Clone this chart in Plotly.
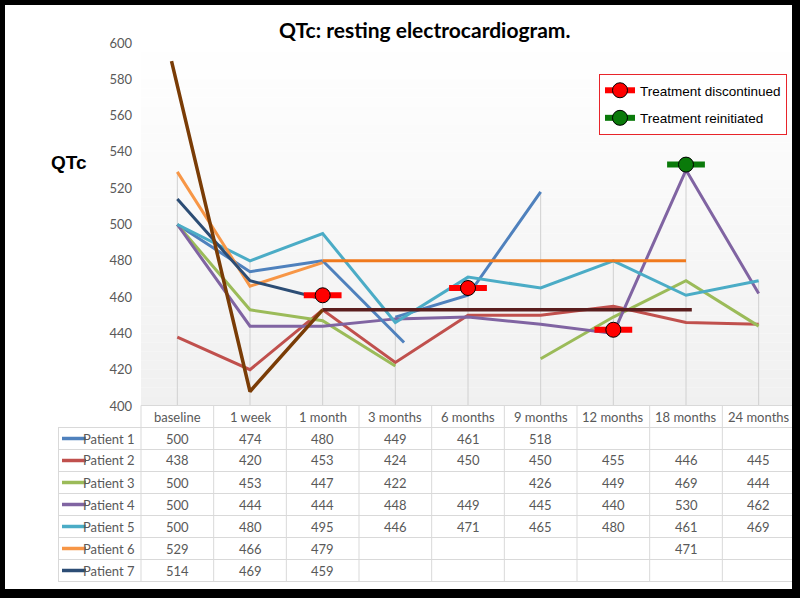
import plotly.graph_objects as go

# ---------------- data ----------------
categories = ["baseline", "1 week", "1 month", "3 months", "6 months",
              "9 months", "12 months", "18 months", "24 months"]
patient_names = ["Patient 1", "Patient 2", "Patient 3", "Patient 4",
                 "Patient 5", "Patient 6", "Patient 7"]
p1 = [500, 474, 480, 449, 461, 518, None, None, None]
p2 = [438, 420, 453, 424, 450, 450, 455, 446, 445]
p3 = [500, 453, 447, 422, None, 426, 449, 469, 444]
p4 = [500, 444, 444, 448, 449, 445, 440, 530, 462]
p5 = [500, 480, 495, 446, 471, 465, 480, 461, 469]
p6 = [529, 466, 479, None, None, None, None, 471, None]
p7 = [514, 469, 459, None, None, None, None, None, None]
series = [p1, p2, p3, p4, p5, p6, p7]
colors = ["#4F81BD", "#C0504D", "#9BBB59", "#8064A2", "#4BACC6", "#F79646", "#2C4D75"]

# hand-drawn overlay lines (category index, value)
blue_stub_x = [2, 3.12]
blue_stub_y = [480, 435]
orange_flat_x = [2, 7]
orange_flat_y = [480, 480]
maroon_flat_x = [2, 7.08]
maroon_flat_y = [453, 453]
brown_x = [-0.08, 1, 2]
brown_y = [590, 408, 453]

# treatment event markers
stop_x = [2, 4, 6]
stop_y = [461, 465, 442]
restart_x = [7]
restart_y = [533]

# ---------------- geometry helpers ----------------
W, H = 800, 598
L, R, T, B = 141, 5, 43, 192
PW, PH = W - L - R, H - T - B


def fx(px):
    return (px - L) / PW


def fy(py):
    return (H - B - py) / PH


GRAY = "#595959"
FONT = "Lato"
fig = go.Figure()

# main patient lines (Patient 1 drawn without its 1 month -> 3 months segment; overlay stub instead)
for k, (name, s, c) in enumerate(zip(patient_names, series, colors)):
    xs = list(range(len(categories)))
    ys = list(s)
    if k == 0:
        xs = xs[:3] + [None] + xs[3:]
        ys = ys[:3] + [None] + ys[3:]
    fig.add_trace(go.Scatter(x=xs, y=ys, mode="lines", name=name,
                             line=dict(color=c, width=3), showlegend=False,
                             hoverinfo="skip"))

fig.add_trace(go.Scatter(x=blue_stub_x, y=blue_stub_y, mode="lines",
                         line=dict(color="#4F81BD", width=3), showlegend=False))
fig.add_trace(go.Scatter(x=orange_flat_x, y=orange_flat_y, mode="lines",
                         line=dict(color="#F07A1E", width=3), showlegend=False))
fig.add_trace(go.Scatter(x=maroon_flat_x, y=maroon_flat_y, mode="lines",
                         line=dict(color="#5A1E1E", width=3.5), showlegend=False))
fig.add_trace(go.Scatter(x=brown_x, y=brown_y, mode="lines",
                         line=dict(color="#7A3C06", width=3.5), showlegend=False))

# event markers: bar + circle
for xs, ys, col in [(stop_x, stop_y, "#FF0000"), (restart_x, restart_y, "#0A7A0A")]:
    fig.add_trace(go.Scatter(x=xs, y=ys, mode="markers", showlegend=False,
                             marker=dict(symbol="line-ew", size=27,
                                         line=dict(color=col, width=6))))
    fig.add_trace(go.Scatter(x=xs, y=ys, mode="markers", showlegend=False,
                             marker=dict(symbol="circle", size=15, color=col,
                                         line=dict(color="black", width=1))))

# legend entries
fig.add_trace(go.Scatter(x=[None], y=[None], mode="lines+markers",
                         name="Treatment discontinued", legendgroup="a",
                         line=dict(color="#FF0000", width=6),
                         marker=dict(size=15, color="#FF0000", line=dict(color="black", width=1))))
fig.add_trace(go.Scatter(x=[None], y=[None], mode="lines+markers",
                         name="Treatment reinitiated", legendgroup="b",
                         line=dict(color="#0A7A0A", width=6),
                         marker=dict(size=15, color="#0A7A0A", line=dict(color="black", width=1))))

shapes = []
# gradient background of plot area
N = 40
for i in range(N):
    v = int(round(255 - 15 * (i + 0.5) / N))
    shapes.append(dict(type="rect", xref="paper", yref="paper", layer="below",
                       x0=0, x1=1, y0=1 - (i + 1) / N, y1=1 - i / N,
                       fillcolor=f"rgb({v},{v},{v})", line=dict(width=0)))
# drop lines from highest value of each category
for i in range(len(categories)):
    vals = [s[i] for s in series if s[i] is not None]
    shapes.append(dict(type="line", xref="x", yref="y", layer="below",
                       x0=i, x1=i, y0=400, y1=max(vals),
                       line=dict(color="#D0D0D0", width=1)))

# data table grid
row_h = 22
top = 405.5
grid = "#D9D9D9"
for k in range(len(patient_names) + 2):
    yy = top + row_h * k
    x0 = 141 if k == 0 else 58
    shapes.append(dict(type="line", xref="paper", yref="paper",
                       x0=fx(x0), x1=fx(795), y0=fy(yy), y1=fy(yy),
                       line=dict(color=grid, width=1)))
bottom = top + row_h * (len(patient_names) + 1)
shapes.append(dict(type="line", xref="paper", yref="paper",
                   x0=fx(58.5), x1=fx(58.5), y0=fy(top + row_h), y1=fy(bottom),
                   line=dict(color=grid, width=1)))
for j in range(len(categories) + 1):
    xx = 141 + PW / len(categories) * j
    shapes.append(dict(type="line", xref="paper", yref="paper",
                       x0=fx(xx), x1=fx(xx), y0=fy(top), y1=fy(bottom),
                       line=dict(color=grid, width=1)))

annotations = []
# header categories
for i, c in enumerate(categories):
    annotations.append(dict(x=i, y=fy(top + row_h / 2), xref="x", yref="paper",
                            text=c, showarrow=False, xanchor="center", yanchor="middle",
                            font=dict(family=FONT, size=13, color=GRAY)))
# rows
for k, (name, s, c) in enumerate(zip(patient_names, series, colors)):
    yc = top + row_h * (k + 1.5)
    shapes.append(dict(type="line", xref="paper", yref="paper",
                       x0=fx(62), x1=fx(86), y0=fy(yc), y1=fy(yc),
                       line=dict(color=c, width=3.5)))
    annotations.append(dict(x=fx(137), y=fy(yc), xref="paper", yref="paper",
                            text=name, showarrow=False, xanchor="right", yanchor="middle",
                            font=dict(family=FONT, size=13, color=GRAY)))
    for i, v in enumerate(s):
        if v is not None:
            annotations.append(dict(x=i, y=fy(yc), xref="x", yref="paper",
                                    text=str(v), showarrow=False, xanchor="center",
                                    yanchor="middle",
                                    font=dict(family=FONT, size=13, color=GRAY)))

# title and axis label
annotations.append(dict(x=fx(424), y=fy(30), xref="paper", yref="paper",
                        text="<b>QTc: resting electrocardiogram.</b>", showarrow=False,
                        xanchor="center", yanchor="middle",
                        font=dict(family=FONT, size=21, color="black")))
annotations.append(dict(x=fx(69), y=fy(162), xref="paper", yref="paper",
                        text="<b>QTc</b>", showarrow=False,
                        xanchor="center", yanchor="middle",
                        font=dict(family="Liberation Sans", size=19, color="black")))

# black frame
for (a, b, c, d) in [(0, 0, 800, 5), (0, 0, 5, 598), (792, 0, 800, 598), (0, 589, 800, 598)]:
    shapes.append(dict(type="rect", xref="paper", yref="paper",
                       x0=fx(a), x1=fx(c), y0=fy(d), y1=fy(b),
                       fillcolor="black", line=dict(width=0)))

fig.update_layout(
    width=W, height=H,
    margin=dict(l=L, r=R, t=T, b=B),
    paper_bgcolor="white", plot_bgcolor="white",
    showlegend=True,
    legend=dict(x=fx(599), y=fy(74), xanchor="left", yanchor="top",
                bgcolor="white", bordercolor="#E8242A", borderwidth=1,
                font=dict(family="Liberation Sans", size=13.5, color="black"),
                traceorder="grouped", tracegroupgap=7),
    xaxis=dict(range=[-0.5, 8.5], showticklabels=False, showgrid=False,
               zeroline=False, showline=False, fixedrange=True),
    yaxis=dict(range=[400, 600], dtick=20, showgrid=False, zeroline=False,
               showline=False, ticks="", ticklabelstandoff=8,
               tickfont=dict(family=FONT, size=13, color=GRAY)),
    shapes=shapes,
    annotations=annotations,
)

fig.write_html("out.html", config={"displayModeBar": False},
               post_script="document.body.style.margin='0';document.body.style.padding='0';")
